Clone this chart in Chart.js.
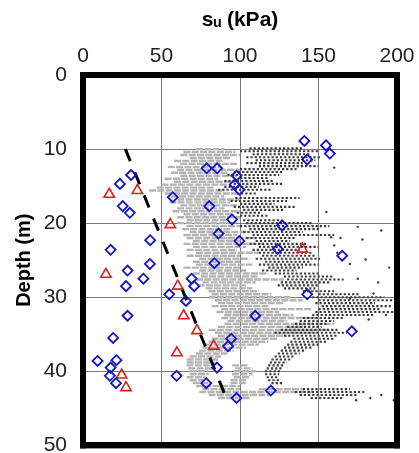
<!DOCTYPE html>
<html>
<head>
<meta charset="utf-8">
<script src="https://cdn.jsdelivr.net/npm/chart.js@4.4.1/dist/chart.umd.min.js"></script>
<style>
html,body{margin:0;padding:0;background:#fff;}
canvas{display:block;}
</style>
</head>
<body>
<canvas id="c" width="419" height="453"></canvas>
<script>
// ---- Data (su in kPa, depth in m) ----
const xTicks = [0, 50, 100, 150, 200];
const yTicks = [0, 10, 20, 30, 40, 50];

// Blue open diamonds
const diamondSu    = [30.6,23.5,25.3,29.8,57.2,78.7,85.4,80.4,97.8,96.6,99.6,94.9,86.3,42.8,17.6,99.6,141.0,154.8,157.2,142.8,126.8,124.0,165.1,42.6,28.4,38.5,27.4,54.9,69.2,70.8,65.6,83.7,142.8,28.4,109.7,171.2,19.2,94.4,92.4,9.3,21.3,17.6,17.1,21.0,59.6,78.5,85.3,97.8,119.6];
const diamondDepth = [13.5,14.7,17.7,18.6,16.5,12.6,12.6,17.7,13.6,14.8,15.5,19.5,21.4,22.3,23.6,22.4,8.9,9.5,10.6,11.4,20.3,23.5,24.4,25.5,26.4,27.5,28.5,29.6,27.5,28.5,30.5,25.4,29.6,32.5,32.5,34.6,35.5,35.6,36.6,38.6,38.5,39.5,40.6,41.6,40.6,41.6,39.5,43.6,42.6];

// Red open triangles
const triangleSu    = [16.7,34.6,55.6,14.6,60.4,64.1,72.6,59.8,83.3,24.6,27.4,139.7];
const triangleDepth = [16.1,15.6,20.2,26.9,28.5,32.5,34.5,37.5,36.6,40.5,42.2,23.5];

// Black dashed trend line
const trendSu    = [27, 92];
const trendDepth = [10, 44];

// Light grey profile streaks: depth, su from, su to
const lightDepth = [10.0,10.4,10.8,11.2,11.6,12.0,12.4,12.8,13.2,13.6,14.0,14.4,14.8,15.2,15.6,16.0,16.4,16.8,17.2,17.6,18.0,18.4,18.8,19.2,19.6,20.0,20.4,20.8,21.2,21.6,22.0,22.4,22.8,23.2,23.6,24.0,24.4,24.8,25.2,25.6,26.0,26.4,26.8,27.2,27.6,28.0,28.4,28.8,29.2,29.6,30.0,30.4,30.8,31.2,31.6,32.0,32.4,32.8,33.2,33.6,34.0,34.4,34.8,35.2,35.6,36.0,36.4,36.8,37.2,37.6,38.0,38.4,38.8,39.2,39.2,39.6,39.6,40.0,40.0,40.4,40.4,40.8,40.8,41.2,41.2,41.6,41.6,42.0,42.4,42.4,42.8,43.2,43.6];
const lightFrom  = [72,64,62,68,58,62,54,60,56,62,52,58,50,47,42,52,56,60,55,62,60,57,64,60,66,60,66,63,68,64,66,70,64,70,66,72,66,74,70,72,64,74,70,75,72,76,73,78,80,82,80,84,86,82,88,85,90,88,92,90,86,80,84,86,82,80,78,76,74,72,68,66,66,66,95,67,97,68,96,68,95,66,96,68,94,70,94,72,76,112,74,80,86];
const lightTo    = [90,97,100,94,90,98,88,100,92,99,86,97,92,84,90,98,90,100,94,98,90,100,95,100,93,98,101,95,104,98,110,100,115,104,98,112,100,106,100,108,100,104,118,112,128,110,104,108,112,120,132,140,128,118,146,125,134,150,130,160,140,156,150,130,124,118,112,104,96,92,88,86,84,82,105,82,108,80,110,80,108,78,106,80,104,82,104,100,100,140,146,120,106];

// Dark grey profile streaks: depth, su from, su to
const darkDepth = [9.9,10.3,10.7,11.1,11.5,11.9,12.3,12.7,13.1,13.5,13.9,14.3,14.7,15.1,15.5,16.0,16.6,17.0,17.4,17.8,18.2,18.6,19.0,19.6,20.0,20.4,20.8,21.2,21.6,22.0,22.4,22.8,23.2,23.6,24.0,24.4,24.8,25.2,25.6,26.0,26.4,26.8,27.2,27.6,28.0,28.4,28.8,29.2,29.6,30.0,30.4,30.8,31.2,31.6,32.0,32.4,32.8,33.2,33.6,34.0,34.4,34.8,35.2,35.6,36.0,36.4,36.8,37.2,37.6,38.0,38.4,38.8,39.2,39.6,40.0,40.4,40.8,41.2,41.6,42.4,42.8,43.2,43.6];
const darkFrom  = [106,100,108,104,110,104,112,100,96,92,100,90,96,90,86,98,97,94,100,96,102,98,100,102,104,100,106,102,108,104,110,106,112,108,112,114,110,116,112,118,114,122,128,130,126,124,128,140,150,146,150,148,152,150,148,146,140,138,135,130,126,122,128,134,132,130,128,126,124,122,120,119,118,117,116,116,117,118,120,140,135,138,145];
const darkTo    = [140,150,145,152,148,140,150,136,128,125,118,122,128,112,120,110,138,130,122,136,128,114,118,126,146,157,150,140,160,136,132,142,150,138,146,148,151,145,150,140,136,150,160,166,158,150,148,160,176,192,198,186,196,190,200,186,166,160,155,152,162,168,162,160,156,150,146,142,138,134,132,130,128,127,126,125,124,126,128,170,180,175,166];

// Scattered dark points
const darkDotSu    = [178,164,190,158,180,195,170,162,185,193,182,170,198,183,174,190,160,188,175,155,160,175];
const darkDotDepth = [22.2,22.0,21.0,21.9,24.9,26.0,25.5,24.0,29.5,32.4,33.0,30.2,43.9,43.6,43.9,43.2,23.0,28.0,27.5,18.5,12.5,20.5];

// ---- Build datasets ----
function streakPoints(depths, froms, tos) {
  const pts = [];
  for (let i = 0; i < depths.length; i++) {
    pts.push({x: froms[i], y: depths[i]}, {x: tos[i], y: depths[i]}, {x: null, y: null});
  }
  return pts;
}
function pairPoints(xs, ys) { return xs.map((v, i) => ({x: v, y: ys[i]})); }

Chart.defaults.font.family = '"Liberation Sans", Arial, sans-serif';
Chart.defaults.color = '#222';

function zeroPad(s) { s.paddingLeft = 0; s.paddingRight = 0; s.paddingTop = 0; s.paddingBottom = 0; }
const frameBorder = {display: true, width: 6, color: '#000', z: 1};

const framePlugin = {
  id: 'frame',
  afterDatasetsDraw(chart) {
    const {ctx, chartArea: a} = chart;
    ctx.save();
    ctx.fillStyle = '#000';
    ctx.fillRect(a.left - 3, a.top - 3, 6, a.bottom - a.top + 6);
    ctx.fillRect(a.right - 3, a.top - 3, 6, a.bottom - a.top + 6);
    ctx.fillRect(a.left - 3, a.top - 3, a.right - a.left + 6, 6);
    ctx.fillRect(a.left - 3, a.bottom - 3, a.right - a.left + 6, 6);
    ctx.restore();
  }
};

new Chart(document.getElementById('c'), {
  type: 'scatter',
  data: {
    datasets: [
      {
        label: 'Diamonds', data: pairPoints(diamondSu, diamondDepth),
        pointStyle: 'rectRot', pointRadius: 5, borderWidth: 1.8,
        borderColor: '#1414c8', backgroundColor: 'rgba(0,0,0,0)', order: 0
      },
      {
        label: 'Triangles', data: pairPoints(triangleSu, triangleDepth),
        pointStyle: 'triangle', pointRadius: 6, borderWidth: 1.6,
        borderColor: '#dc2020', backgroundColor: 'rgba(0,0,0,0)', order: 1
      },
      {
        label: 'Trend', data: pairPoints(trendSu, trendDepth), showLine: true,
        borderColor: '#000', borderWidth: 3, borderDash: [13, 12], pointRadius: 0, order: 2
      },
      {
        label: 'Dark dots', data: pairPoints(darkDotSu, darkDotDepth),
        pointStyle: 'circle', pointRadius: 1.2, borderWidth: 0,
        backgroundColor: '#3c3c3c', order: 3
      },
      {
        label: 'Dark profile', data: streakPoints(darkDepth, darkFrom, darkTo), showLine: true, spanGaps: false,
        borderColor: '#3a3a3a', borderWidth: 2.1, borderDash: [2.2, 2.0], pointRadius: 0, order: 4
      },
      {
        label: 'Light profile', data: streakPoints(lightDepth, lightFrom, lightTo), showLine: true, spanGaps: false,
        borderColor: '#b4b4b4', borderWidth: 2.4, borderDash: [7, 1.3], pointRadius: 0, order: 5
      }
    ]
  },
  options: {
    responsive: false,
    animation: false,
    events: [],
    layout: {padding: {left: 0, right: 22, top: 0, bottom: 7}},
    plugins: {legend: {display: false}, tooltip: {enabled: false}},
    scales: {
      x: {
        type: 'linear', position: 'top', min: 0, max: 200,
        afterBuildTicks: s => { s.ticks = xTicks.map(v => ({value: v})); },
        ticks: {padding: 6, color: '#222', font: {size: 21}},
        grid: {color: '#7a7a7a', lineWidth: 1, drawTicks: false},
        border: frameBorder,
        title: {display: true, text: 'sᵤ (kPa)', color: '#000', font: {size: 21, weight: 'bold'}, padding: {top: 8, bottom: 0}},
        afterFit: s => { s.height = 75; zeroPad(s); }
      },
      y: {
        type: 'linear', position: 'left', reverse: true, min: 0, max: 50,
        afterBuildTicks: s => { s.ticks = yTicks.map(v => ({value: v})); },
        ticks: {padding: 16, color: '#222', font: {size: 21}},
        grid: {color: '#7a7a7a', lineWidth: 1, drawTicks: false},
        border: frameBorder,
        title: {display: true, text: 'Depth (m)', color: '#000', font: {size: 20, weight: 'bold'}, padding: {top: 12, bottom: 0}},
        afterFit: s => { s.width = 83; zeroPad(s); }
      },
      x2: {
        type: 'linear', position: 'bottom', min: 0, max: 200,
        ticks: {display: false}, grid: {display: false, drawTicks: false},
        border: frameBorder,
        afterFit: s => { s.height = 0; zeroPad(s); }
      },
      y2: {
        type: 'linear', position: 'right', reverse: true, min: 0, max: 50,
        ticks: {display: false}, grid: {display: false, drawTicks: false},
        border: frameBorder,
        afterFit: s => { s.width = 0; zeroPad(s); }
      }
    }
  },
  plugins: [framePlugin]
});
</script>
</body>
</html>
